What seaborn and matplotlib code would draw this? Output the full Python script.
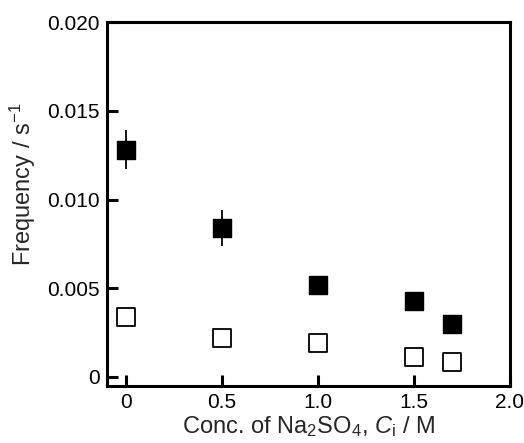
import matplotlib
matplotlib.use("Agg")
import matplotlib.pyplot as plt
import seaborn as sns
import pandas as pd

# Na2SO4 concentration (M)
conc = [0.0, 0.5, 1.0, 1.5, 1.7]
# frequency, filled series, with standard deviation
freq_filled = [0.0128, 0.0084, 0.0052, 0.0043, 0.0030]
err_filled = [0.0011, 0.0010, 0.0002, 0.0001, 0.0001]
# frequency, open series
freq_open = [0.0034, 0.0022, 0.0019, 0.0011, 0.00085]

xticks = [0, 0.5, 1.0, 1.5, 2.0]
xticklabels = ["0", "0.5", "1.0", "1.5", "2.0"]
yticks = [0, 0.005, 0.010, 0.015, 0.020]
yticklabels = ["0", "0.005", "0.010", "0.015", "0.020"]

sns.set_style("ticks")
plt.rcParams["font.family"] = ["Liberation Sans", "DejaVu Sans"]
plt.rcParams["mathtext.fontset"] = "custom"
plt.rcParams["mathtext.rm"] = "Liberation Sans"
plt.rcParams["mathtext.it"] = "Liberation Sans:italic"

df_filled = pd.DataFrame({"conc": conc, "freq": freq_filled})
df_open = pd.DataFrame({"conc": conc, "freq": freq_open})

fig = plt.figure(figsize=(5.24, 4.43), dpi=100)
ax = fig.add_axes([0.204, 0.129, 0.769, 0.821])

ax.errorbar(conc, freq_filled, yerr=err_filled, fmt="none", ecolor="black",
            elinewidth=1.3, capsize=0, zorder=2)
sns.scatterplot(data=df_filled, x="conc", y="freq", marker="s", s=150,
                color="black", edgecolor="black", linewidth=1.0, ax=ax, zorder=3)
sns.scatterplot(data=df_open, x="conc", y="freq", marker="s", s=150,
                facecolor="white", edgecolor="black", linewidth=1.3, ax=ax, zorder=3)

ax.set_xlim(-0.1, 2.0)
ax.set_ylim(-0.0005, 0.020)
ax.set_xticks(xticks)
ax.set_xticklabels(xticklabels)
ax.set_yticks(yticks)
ax.set_yticklabels(yticklabels)

for side in ["left", "right", "top", "bottom"]:
    ax.spines[side].set_visible(True)
    ax.spines[side].set_linewidth(2.2)
    ax.spines[side].set_color("black")
ax.tick_params(direction="in", length=8, width=2.2, labelsize=15,
               colors="black", pad=5)

ax.set_xlabel(r"Conc. of Na$_2$SO$_4$, $C_\mathrm{i}$ / M", fontsize=17, labelpad=2)
ax.set_ylabel(r"Frequency / s$^{-1}$", fontsize=17)
ax.yaxis.set_label_coords(-0.171, 0.555)

fig.savefig("out.png", dpi=100)
